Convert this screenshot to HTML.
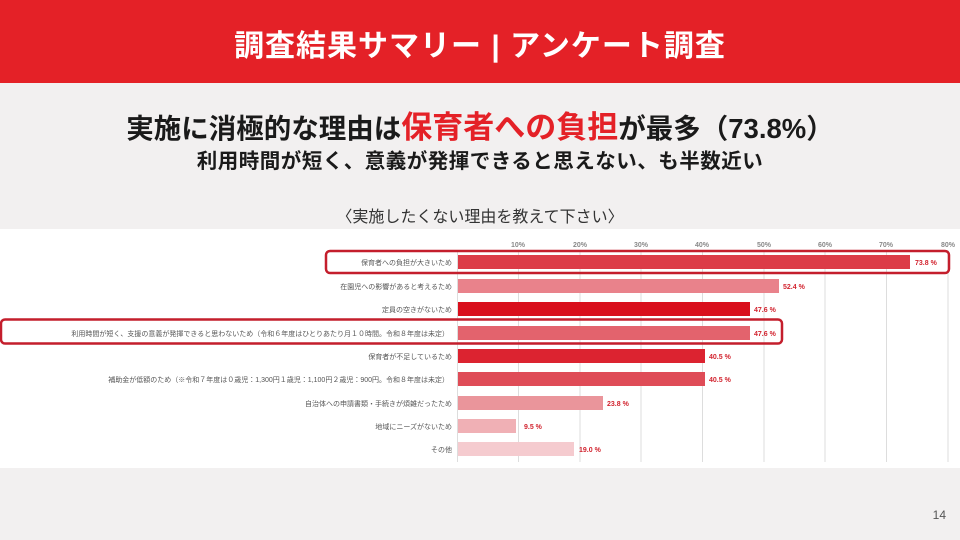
<!DOCTYPE html>
<html><head><meta charset="utf-8"><style>
*{margin:0;padding:0;box-sizing:border-box}
body{width:960px;height:540px;overflow:hidden;background:#f2f0f0;font-family:"Liberation Sans","Noto Sans CJK JP",sans-serif;position:relative}
.hd{position:absolute;left:0;top:0;width:960px;height:83px;background:#e42127;color:#fff;font-weight:bold;font-size:30px;text-align:center;line-height:94px;letter-spacing:1px}
.t1{position:absolute;top:102px;width:960px;text-align:center;font-size:27.5px;font-weight:bold;color:#1a1a1a}
.t1 span{color:#e42127;font-size:31px}
.t2{position:absolute;top:144px;width:960px;text-align:center;font-size:20.5px;font-weight:bold;color:#1a1a1a;letter-spacing:0.5px}
.t3{position:absolute;top:203px;width:960px;text-align:center;font-size:16px;color:#333}
.pn{position:absolute;left:0;top:229px;width:960px;height:239px;background:#fff}
.pg{position:absolute;right:14px;top:508px;font-size:12px;color:#555}
</style></head><body>
<div class="hd">調査結果サマリー | アンケート調査</div>
<div class="t1">実施に消極的な理由は<span>保育者への負担</span>が最多（73.8%）</div>
<div class="t2">利用時間が短く、意義が発揮できると思えない、も半数近い</div>
<div class="t3">〈実施したくない理由を教えて下さい〉</div>
<div class="pn"></div>
<svg style="position:absolute;left:0;top:0" width="960" height="540" font-family="Liberation Sans, Noto Sans CJK JP, sans-serif">
<g stroke="#ddd" stroke-width="1">
<line x1="457.5" y1="250" x2="457.5" y2="462"/><line x1="518.5" y1="250" x2="518.5" y2="462"/><line x1="580" y1="250" x2="580" y2="462"/><line x1="641" y1="250" x2="641" y2="462"/><line x1="702.5" y1="250" x2="702.5" y2="462"/><line x1="764" y1="250" x2="764" y2="462"/><line x1="825" y1="250" x2="825" y2="462"/><line x1="886.5" y1="250" x2="886.5" y2="462"/><line x1="948" y1="250" x2="948" y2="462"/>
</g>
<g font-size="7" font-weight="bold" fill="#888" text-anchor="middle">
<text x="518" y="247">10%</text><text x="580" y="247">20%</text><text x="641" y="247">30%</text><text x="702" y="247">40%</text><text x="764" y="247">50%</text><text x="825" y="247">60%</text><text x="886" y="247">70%</text><text x="948" y="247">80%</text>
</g>
<g>
<rect x="458" y="255" width="452" height="14" fill="#dc3b47"/>
<rect x="458" y="279" width="321" height="14" fill="#e9828b"/>
<rect x="458" y="302" width="292" height="14" fill="#d90f1c"/>
<rect x="458" y="326" width="292" height="14" fill="#e3636d"/>
<rect x="458" y="349" width="247" height="14" fill="#dc2330"/>
<rect x="458" y="372" width="247" height="14" fill="#df4c57"/>
<rect x="458" y="396" width="145" height="14" fill="#ea959b"/>
<rect x="458" y="419" width="58" height="14" fill="#f0b0b5"/>
<rect x="458" y="442" width="116" height="14" fill="#f5cbcf"/>
</g>
<g font-size="7" font-weight="bold" fill="#d2232e">
<text x="915" y="265">73.8 %</text><text x="783" y="289">52.4 %</text><text x="754" y="312">47.6 %</text><text x="754" y="336">47.6 %</text><text x="709" y="359">40.5 %</text><text x="709" y="382">40.5 %</text><text x="607" y="406">23.8 %</text><text x="524" y="429">9.5 %</text><text x="579" y="452">19.0 %</text>
</g>
<g font-size="7" fill="#555" text-anchor="end">
<text x="452" y="265">保育者への負担が大きいため</text>
<text x="452" y="289">在園児への影響があると考えるため</text>
<text x="452" y="312">定員の空きがないため</text>
<text x="449" y="336">利用時間が短く、支援の意義が発揮できると思わないため（令和６年度はひとりあたり月１０時間。令和８年度は未定）</text>
<text x="452" y="359">保育者が不足しているため</text>
<text x="449" y="382">補助金が低額のため（※令和７年度は０歳児：1,300円１歳児：1,100円２歳児：900円。令和８年度は未定）</text>
<text x="452" y="406">自治体への申請書類・手続きが煩雑だったため</text>
<text x="452" y="429">地域にニーズがないため</text>
<text x="452" y="452">その他</text>
</g>
<rect x="326" y="251" width="623" height="22" rx="4" fill="none" stroke="#c41e2c" stroke-width="2.5"/>
<rect x="1" y="319.5" width="781" height="24" rx="4" fill="none" stroke="#c41e2c" stroke-width="2.5"/>
</svg>
<div class="pg">14</div>
</body></html>
